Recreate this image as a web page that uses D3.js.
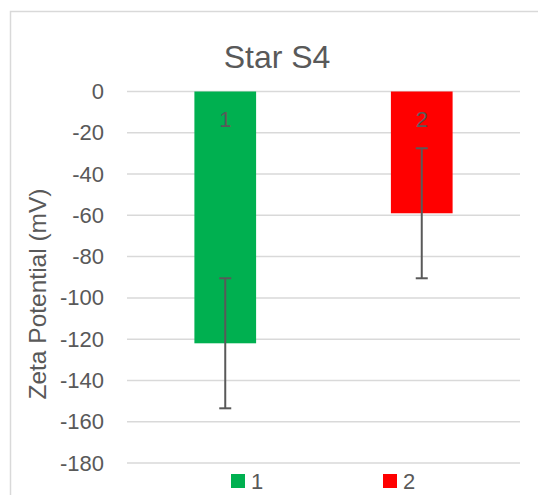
<!DOCTYPE html>
<html>
<head>
<meta charset="utf-8">
<script src="https://cdn.jsdelivr.net/npm/d3@7"></script>
<style>
  html, body { margin: 0; padding: 0; background: #fff; }
  svg { display: block; font-family: "Liberation Sans", Arial, sans-serif; }
</style>
</head>
<body>
<svg id="chart" width="538" height="495"></svg>
<script>
// Zeta potential per sample, with standard deviation
const categories = ["1", "2"];
const values = [-122, -59];
const errors = [31.5, 31.5];
const colors = ["#00B050", "#FF0000"];
const yTicks = [0, -20, -40, -60, -80, -100, -120, -140, -160, -180];
const chartTitle = "Star S4";
const yTitle = "Zeta Potential (mV)";

const svg = d3.select("#chart");
const textColor = "#595959";
const gridColor = "#D9D9D9";

// chart area frame (left and top edges visible)
svg.append("rect")
  .attr("x", 10.5).attr("y", 11.5)
  .attr("width", 560).attr("height", 520)
  .attr("fill", "none").attr("stroke", gridColor).attr("stroke-width", 1.5);

const plot = { left: 127, right: 520, top: 91.5, bottom: 463 };

const x = d3.scaleBand()
  .domain(categories)
  .range([plot.left, plot.right])
  .paddingInner(0.686)
  .paddingOuter(0.343);

const y = d3.scaleLinear()
  .domain([0, -180])
  .range([plot.top, plot.bottom]);

// horizontal gridlines
svg.append("g")
  .selectAll("line")
  .data(yTicks)
  .join("line")
  .attr("x1", plot.left).attr("x2", plot.right)
  .attr("y1", d => y(d)).attr("y2", d => y(d))
  .attr("stroke", gridColor).attr("stroke-width", 1.5);

// y axis tick labels
const yAxis = d3.axisLeft(y).tickValues(yTicks).tickSize(0).tickPadding(23)
  .tickFormat(d => d3.format("d")(d).replace("−", "-"));
const gy = svg.append("g").attr("transform", `translate(${plot.left},0)`).call(yAxis);
gy.select(".domain").remove();
gy.selectAll("text")
  .attr("fill", textColor)
  .style("font-size", "22px");

// bars
svg.append("g")
  .selectAll("rect")
  .data(values)
  .join("rect")
  .attr("x", (d, i) => x(categories[i]))
  .attr("width", x.bandwidth())
  .attr("y", d => y(Math.max(0, d)))
  .attr("height", d => Math.abs(y(d) - y(0)))
  .attr("fill", (d, i) => colors[i]);

// error bars
const eg = svg.append("g").attr("stroke", textColor).attr("stroke-width", 2);
values.forEach((v, i) => {
  const cx = x(categories[i]) + x.bandwidth() / 2;
  const hi = y(v + errors[i]);
  const lo = y(v - errors[i]);
  eg.append("line").attr("x1", cx).attr("x2", cx).attr("y1", hi).attr("y2", lo);
  eg.append("line").attr("x1", cx - 6).attr("x2", cx + 6).attr("y1", hi).attr("y2", hi);
  eg.append("line").attr("x1", cx - 6).attr("x2", cx + 6).attr("y1", lo).attr("y2", lo);
});

// category labels sitting on the zero line
const xAxis = d3.axisBottom(x).tickSize(0).tickPadding(20);
const gx = svg.append("g").attr("transform", `translate(0,${y(0)})`).call(xAxis);
gx.select(".domain").remove();
gx.selectAll("text")
  .attr("fill", textColor)
  .style("font-size", "22px");

// chart title
svg.append("text")
  .attr("x", 277).attr("y", 68)
  .attr("text-anchor", "middle")
  .attr("fill", textColor)
  .style("font-size", "32px")
  .text(chartTitle);

// y axis title
svg.append("text")
  .attr("transform", `translate(46,294) rotate(-90)`)
  .attr("text-anchor", "middle")
  .attr("fill", textColor)
  .style("font-size", "24.5px")
  .text(yTitle);

// legend
const legend = svg.append("g");
const legendX = [231, 383];
categories.forEach((c, i) => {
  legend.append("rect")
    .attr("x", legendX[i]).attr("y", 474)
    .attr("width", 14).attr("height", 14)
    .attr("fill", colors[i]);
  legend.append("text")
    .attr("x", legendX[i] + 20).attr("y", 489)
    .attr("fill", textColor)
    .style("font-size", "22px")
    .text(c);
});
</script>
</body>
</html>
